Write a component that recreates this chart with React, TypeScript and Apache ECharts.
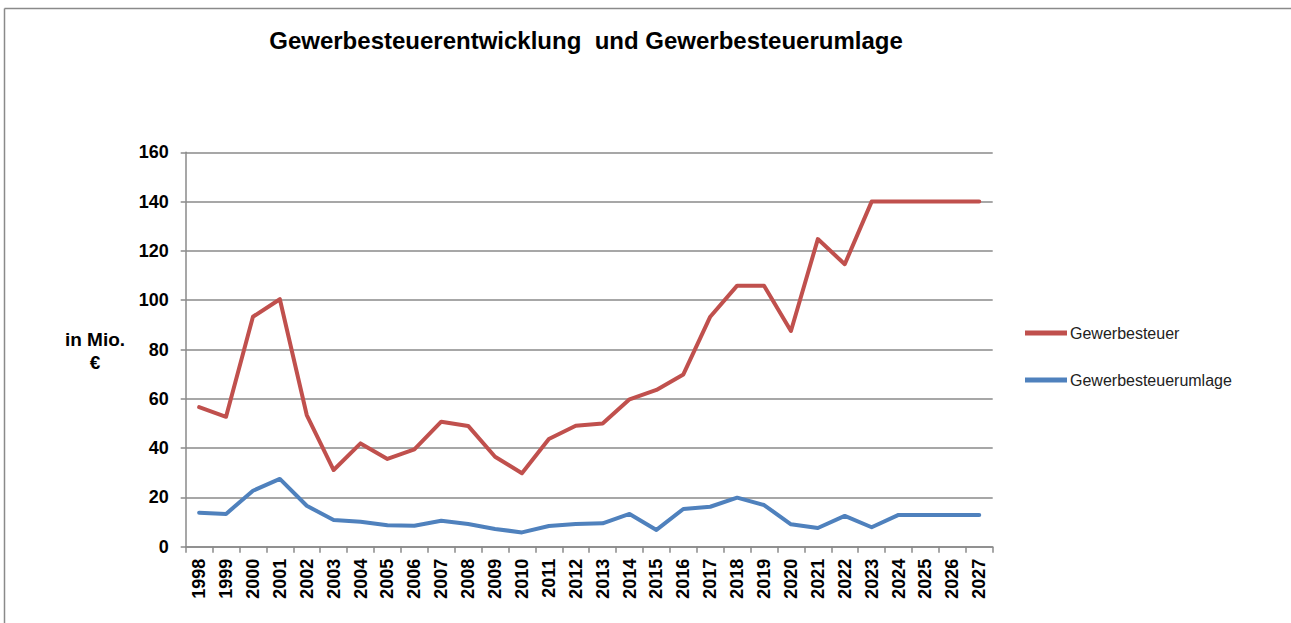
import React, { useEffect, useRef } from "react";
import * as echarts from "echarts";

const years = [
  "1998", "1999", "2000", "2001", "2002", "2003", "2004", "2005", "2006", "2007",
  "2008", "2009", "2010", "2011", "2012", "2013", "2014", "2015", "2016", "2017",
  "2018", "2019", "2020", "2021", "2022", "2023", "2024", "2025", "2026", "2027",
];

const gewerbesteuer = [
  56.6, 52.7, 93.3, 100.4, 53.4, 31.1, 41.9, 35.6, 39.5, 50.7,
  49.0, 36.5, 29.8, 43.7, 49.1, 50.0, 59.8, 63.6, 69.9, 93.3,
  105.9, 105.9, 87.5, 124.8, 114.6, 140, 140, 140, 140, 140,
];

const gewerbesteuerumlage = [
  13.8, 13.3, 22.7, 27.5, 16.6, 10.8, 10.1, 8.7, 8.5, 10.5,
  9.2, 7.2, 5.8, 8.4, 9.2, 9.5, 13.3, 6.8, 15.3, 16.2,
  19.9, 16.9, 9.1, 7.6, 12.5, 7.9, 12.9, 12.9, 12.9, 12.9,
];

const title = "Gewerbesteuerentwicklung  und Gewerbesteuerumlage";
const yAxisName = "in Mio.\n€";
const seriesNames = ["Gewerbesteuer", "Gewerbesteuerumlage"];

export default function App() {
  const ref = useRef<HTMLDivElement>(null);

  useEffect(() => {
    document.body.style.margin = "0";
    const chart = echarts.init(ref.current!, null, { renderer: "svg" });
    const font = "Arial, 'Liberation Sans', sans-serif";
    chart.setOption({
      animation: false,
      backgroundColor: "#ffffff",
      textStyle: { fontFamily: font },
      title: {
        text: title,
        left: 581,
        top: 23,
        textAlign: "center",
        textStyle: { fontSize: 24, fontWeight: "bold", color: "#000", fontFamily: font },
      },
      graphic: [
        {
          type: "line",
          shape: { x1: 4.5, y1: 8.5, x2: 1291, y2: 8.5 },
          style: { stroke: "#8a8a8a", lineWidth: 1.5 },
        },
        {
          type: "line",
          shape: { x1: 4.5, y1: 8.5, x2: 4.5, y2: 623 },
          style: { stroke: "#8a8a8a", lineWidth: 1.5 },
        },
        {
          type: "text",
          x: 95,
          y: 328,
          style: {
            text: yAxisName,
            fontSize: 19,
            fontWeight: "bold",
            fontFamily: font,
            fill: "#000",
            align: "center",
            lineHeight: 23,
          },
        },
      ],
      legend: {
        orient: "vertical",
        left: 1020,
        top: 320,
        itemWidth: 42,
        itemHeight: 5,
        itemGap: 31,
        icon: "rect",
        textStyle: { fontSize: 16, color: "#222", fontFamily: font, padding: [0, 0, 0, -2] },
        data: seriesNames,
      },
      grid: {
        left: 185.7,
        right: 298.3,
        top: 152.3,
        bottom: 76.3,
        containLabel: false,
      },
      xAxis: {
        type: "category",
        data: years,
        boundaryGap: true,
        axisLine: { lineStyle: { color: "#8a8a8a", width: 1.5 } },
        axisTick: { show: true, length: 6, interval: 0, lineStyle: { color: "#8a8a8a", width: 1.5 } },
        axisLabel: {
          rotate: 90,
          interval: 0,
          margin: 12,
          fontSize: 18,
          fontWeight: "bold",
          color: "#000",
          fontFamily: font,
        },
      },
      yAxis: {
        type: "value",
        min: 0,
        max: 160,
        interval: 20,
        axisLine: { show: true, lineStyle: { color: "#8a8a8a", width: 1.5 } },
        axisTick: { show: true, length: 5, lineStyle: { color: "#8a8a8a", width: 1.5 } },
        splitLine: { show: true, lineStyle: { color: "#8a8a8a", width: 1.5 } },
        axisLabel: {
          margin: 17,
          fontSize: 18,
          fontWeight: "bold",
          color: "#000",
          fontFamily: font,
        },
      },
      series: [
        {
          name: seriesNames[0],
          type: "line",
          data: gewerbesteuer,
          showSymbol: false,
          symbol: "none",
          lineStyle: { color: "#C0504D", width: 4, cap: "round", join: "round" },
          itemStyle: { color: "#C0504D" },
        },
        {
          name: seriesNames[1],
          type: "line",
          data: gewerbesteuerumlage,
          showSymbol: false,
          symbol: "none",
          lineStyle: { color: "#4F81BD", width: 4, cap: "round", join: "round" },
          itemStyle: { color: "#4F81BD" },
        },
      ],
    });
    return () => chart.dispose();
  }, []);

  return <div ref={ref} style={{ width: 1291, height: 623 }} />;
}
